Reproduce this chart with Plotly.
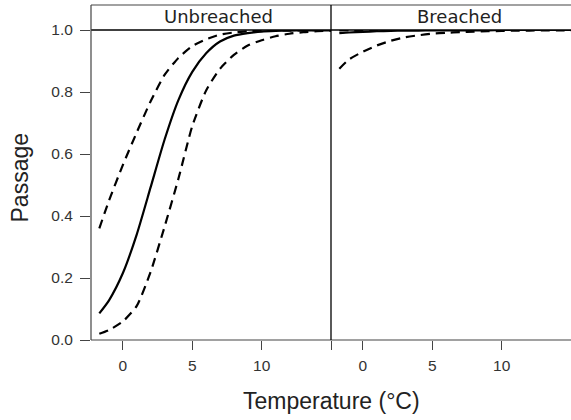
import plotly.graph_objects as go

# ---- data ----
temp = [-1.7, -1, 0, 1, 2, 3, 4, 5, 6, 7, 8, 9, 10, 11, 12, 13, 14, 15]

unb_fit = [0.086, 0.128, 0.216, 0.341, 0.493, 0.646, 0.774, 0.865, 0.925, 0.963,
           0.982, 0.990, 0.995, 0.997, 0.998, 0.999, 0.999, 0.999]
unb_upper = [0.36, 0.45, 0.565, 0.67, 0.77, 0.855, 0.91, 0.948, 0.970, 0.985,
             0.992, 0.996, 0.998, 0.999, 0.999, 0.999, 1.0, 1.0]
unb_lower = [0.02, 0.032, 0.06, 0.11, 0.22, 0.365, 0.52, 0.69, 0.805, 0.875,
             0.92, 0.95, 0.967, 0.98, 0.988, 0.993, 0.996, 0.998]

br_fit = [0.990, 0.992, 0.994, 0.996, 0.997, 0.998, 0.998, 0.999, 0.999, 0.999,
          0.999, 0.999, 1.0, 1.0, 1.0, 1.0, 1.0, 1.0]
br_upper = [0.999, 0.999, 0.999, 0.999, 1.0, 1.0, 1.0, 1.0, 1.0, 1.0,
            1.0, 1.0, 1.0, 1.0, 1.0, 1.0, 1.0, 1.0]
br_lower = [0.875, 0.905, 0.93, 0.95, 0.965, 0.976, 0.983, 0.988, 0.991, 0.993,
            0.995, 0.996, 0.997, 0.998, 0.998, 0.999, 0.999, 0.999]

panels = ["Unbreached", "Breached"]
x_ticks = [0, 5, 10, 15]
x_ticktext = ["0", "5", "10", ""]
y_ticks = [0.0, 0.2, 0.4, 0.6, 0.8, 1.0]
x_title = "Temperature (°C)"
y_title = "Passage"

# ---- figure ----
W, H = 571, 420
ML, MR, MT, MB = 91, 0, 30, 80
plot_h = H - MT - MB
strip_top = 1 + 25 / plot_h
AX = "#444444"
TICKFONT = dict(family="Liberation Sans, Arial, sans-serif", size=15.5, color="#333333")

fig = go.Figure()

def add_curves(xa, ya, fit, upper, lower):
    for vals, dash in ((fit, "solid"), (upper, "9px,6px"), (lower, "9px,6px")):
        fig.add_trace(go.Scatter(
            x=temp, y=vals, mode="lines", xaxis=xa, yaxis=ya,
            line=dict(color="black", width=2.2, dash=dash, shape="spline", smoothing=0.6),
            showlegend=False, hoverinfo="skip"))

add_curves("x", "y", unb_fit, unb_upper, unb_lower)
add_curves("x2", "y2", br_fit, br_upper, br_lower)

xcommon = dict(range=[-2.3, 15], tickvals=x_ticks, ticktext=x_ticktext, ticks="outside",
               ticklen=9, tickwidth=1, tickcolor=AX, showgrid=False, zeroline=False,
               showline=False, tickfont=TICKFONT, fixedrange=True, ticklabelstandoff=2)
fig.update_layout(
    width=W, height=H,
    margin=dict(l=ML, r=MR, t=MT, b=MB, pad=0),
    paper_bgcolor="white", plot_bgcolor="white",
    xaxis=dict(domain=[0, 0.5], anchor="y", **xcommon),
    xaxis2=dict(domain=[0.5, 1], anchor="y2", **xcommon),
    yaxis=dict(range=[0, 1], domain=[0, 1], anchor="x", tickvals=y_ticks, tickformat=".1f",
               ticks="outside", ticklen=10, tickwidth=1, tickcolor=AX, showgrid=False,
               zeroline=False, showline=False, tickfont=TICKFONT, fixedrange=True,
               ticklabelstandoff=4),
    yaxis2=dict(range=[0, 1], domain=[0, 1], anchor="x2", showticklabels=False, ticks="",
                showgrid=False, zeroline=False, showline=False, fixedrange=True),
    showlegend=False,
)

line = dict(color=AX, width=1.2)
shapes = [
    dict(type="line", xref="paper", yref="paper", x0=0, x1=1, y0=strip_top, y1=strip_top, line=line),
    dict(type="line", xref="paper", yref="paper", x0=0, x1=1, y0=1, y1=1, line=dict(color="black", width=1.3)),
    dict(type="line", xref="paper", yref="paper", x0=0, x1=1, y0=0, y1=0, line=line),
    dict(type="line", xref="paper", yref="paper", x0=0, x1=0, y0=0, y1=strip_top, line=line),
    dict(type="line", xref="paper", yref="paper", x0=0.5, x1=0.5, y0=0, y1=strip_top,
         line=dict(color="black", width=1.3)),
]
fig.update_layout(shapes=shapes)

STRIPFONT = dict(family="DejaVu Sans, sans-serif", size=18, color="#222222")
strip_y = (plot_h + MT - 17) / plot_h
annotations = [
    dict(text=panels[0], xref="paper", yref="paper", x=(218.5 - ML) / (W - ML), y=strip_y,
         xanchor="center", yanchor="middle", showarrow=False, font=STRIPFONT),
    dict(text=panels[1], xref="paper", yref="paper", x=(459 - ML) / (W - ML), y=strip_y,
         xanchor="center", yanchor="middle", showarrow=False, font=STRIPFONT),
    dict(text=x_title, xref="paper", yref="paper", x=(331.7 - ML) / (W - ML),
         y=(plot_h + MT - 401) / plot_h, xanchor="center", yanchor="middle", showarrow=False,
         font=dict(family="Liberation Sans, Arial, sans-serif", size=23, color="#222222")),
    dict(text=y_title, xref="paper", yref="paper", x=(19 - ML) / (W - ML),
         y=(plot_h + MT - 177.5) / plot_h, xanchor="center", yanchor="middle", showarrow=False,
         textangle=-90,
         font=dict(family="Liberation Sans, Arial, sans-serif", size=23, color="#222222")),
]
fig.update_layout(annotations=annotations)

fig.write_html("out.html", config={"displayModeBar": False, "staticPlot": True},
               post_script="document.body.style.margin='0px';document.body.style.overflow='hidden';")
